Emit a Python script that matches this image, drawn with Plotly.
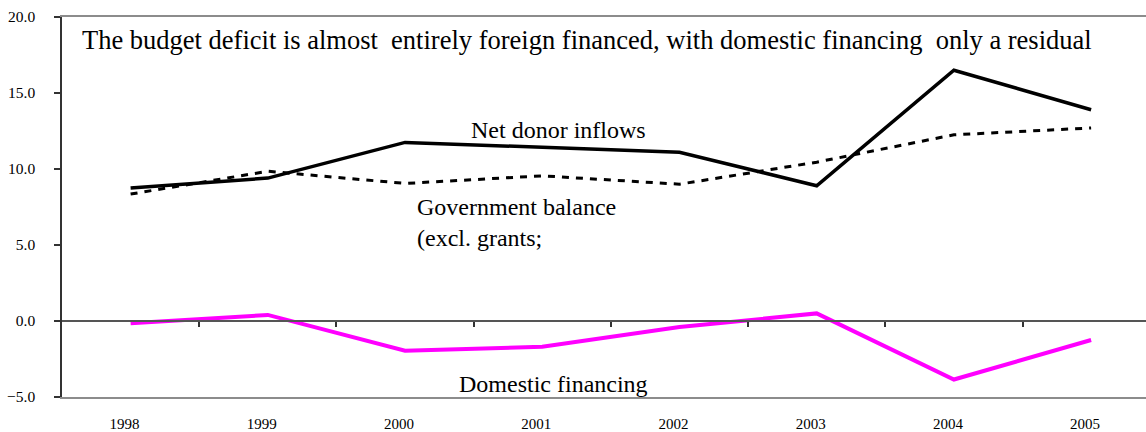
import plotly.graph_objects as go

years = ["1998", "1999", "2000", "2001", "2002", "2003", "2004", "2005"]
net_donor_inflows = [8.75, 9.4, 11.75, 11.45, 11.1, 8.9, 16.5, 13.9]
government_balance = [8.35, 9.85, 9.05, 9.55, 9.0, 10.45, 12.25, 12.7]
domestic_financing = [-0.15, 0.4, -1.95, -1.7, -0.4, 0.5, -3.85, -1.25]
y_ticks = [-5, 0, 5, 10, 15, 20]

FONT = "'Liberation Serif', 'Times New Roman', Times, 'DejaVu Serif', serif"
xpos = list(range(len(years)))
x_range = [-0.5, 7.4]

fig = go.Figure()
fig.add_trace(go.Scatter(x=xpos, y=government_balance, mode="lines",
                         line=dict(color="black", width=3, dash="7px,7px"),
                         name="Government balance"))
fig.add_trace(go.Scatter(x=xpos, y=net_donor_inflows, mode="lines",
                         line=dict(color="black", width=3.5),
                         name="Net donor inflows"))
fig.add_trace(go.Scatter(x=xpos, y=domestic_financing, mode="lines",
                         line=dict(color="#FF00FF", width=4),
                         name="Domestic financing", xaxis="x2"))

fig.update_layout(
    width=1146, height=432,
    margin=dict(l=62, r=0, t=17, b=35),
    paper_bgcolor="white", plot_bgcolor="white",
    showlegend=False,
    font=dict(family=FONT, color="black"),
    xaxis=dict(
        range=x_range, tickmode="array", tickvals=xpos, ticktext=years,
        showgrid=False, zeroline=False, ticks="",
        showline=True, mirror=True, linecolor="#8c8c8c", linewidth=1.5,
        tickfont=dict(size=15, family=FONT), ticklabelstandoff=12,
        ticklabelshift=-6,
    ),
    # category-boundary ticks hanging below the zero line
    xaxis2=dict(
        range=x_range, overlaying="x", anchor="free", position=0.2,
        tickmode="array", tickvals=[i + 0.5 for i in xpos],
        ticks="outside", ticklen=5, tickwidth=1.5, tickcolor="#333333",
        showticklabels=False, showgrid=False, zeroline=False,
        showline=True, linecolor="#555555", linewidth=1.5,
    ),
    yaxis=dict(
        range=[-5, 20], tickmode="array", tickvals=y_ticks,
        tickformat=".1f", showgrid=False, zeroline=False,
        showline=True, linecolor="#333333", linewidth=1.5,
        ticks="outside", ticklen=6, tickwidth=1.5, tickcolor="#333333",
        tickfont=dict(size=15.5, family=FONT), ticklabelstandoff=16,
    ),
)

annotations = [
    dict(text="The budget deficit is almost\u00a0 entirely foreign financed, with domestic financing\u00a0 only a residual",
         x=-0.367, y=18.5, xanchor="left", yanchor="middle", size=26.5),
    dict(text="Net donor inflows", x=3.12, y=12.55, xanchor="center", yanchor="middle", size=24),
    dict(text="Government balance<br>(excl. grants;", x=2.07, y=6.5, xanchor="left", yanchor="middle", size=24),
    dict(text="Domestic financing", x=3.08, y=-4.12, xanchor="center", yanchor="middle", size=24),
]
for a in annotations:
    fig.add_annotation(text=a["text"], x=a["x"], y=a["y"], xref="x", yref="y",
                       xanchor=a["xanchor"], yanchor=a["yanchor"], align="left",
                       showarrow=False, font=dict(family=FONT, size=a["size"], color="black"))

fig.write_html("out.html")
